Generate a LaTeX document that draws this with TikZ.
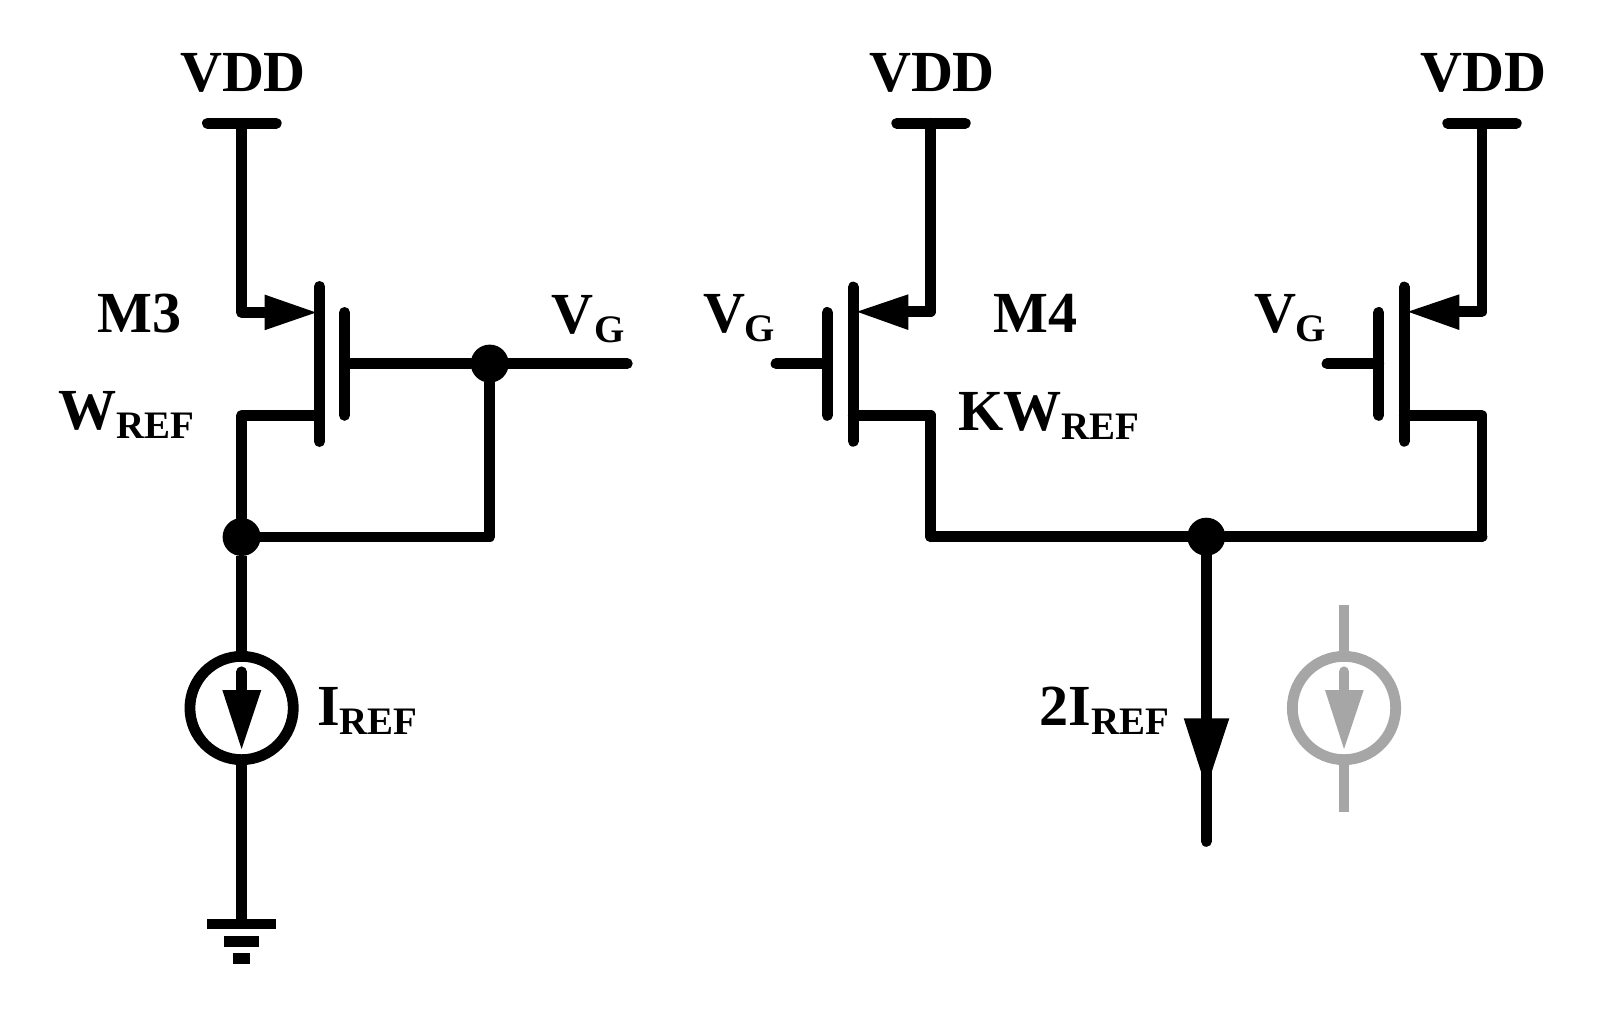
\documentclass[tikz,border=0pt]{standalone}
\usepackage{fontspec}
\setmainfont{Liberation Serif}
\newcommand{\mainsize}{\fontsize{43.6pt}{50pt}\selectfont\bfseries}
\newcommand{\subsize}{\fontsize{29.2pt}{34pt}\selectfont\bfseries}
\newcommand{\lbl}[2]{{\mainsize #1}\lower 6.4pt\hbox{\subsize #2}}
\definecolor{ghost}{HTML}{A6A6A6}
\tikzset{
  wire/.style={line width=8.1pt,line cap=round,line join=round,black},
  ghostwire/.style={line width=8.1pt,line cap=butt,ghost},
  tip/.style={fill=black,draw=none},
  label/.style={inner sep=0pt,outer sep=0pt,anchor=base west,black},
  rail/.style={inner sep=0pt,outer sep=0pt,anchor=base,black},
  junction/.style={circle,fill=black,inner sep=0pt,outer sep=0pt,minimum size=28.5pt},
  source/.style={circle,draw=black,line width=8.1pt,inner sep=0pt,outer sep=0pt,minimum size=77.5pt},
  ghostsource/.style={source,draw=ghost},
  gndbar/.style={rectangle,fill=black,inner sep=0pt,outer sep=0pt,minimum height=8pt}
}
\begin{document}
\begin{tikzpicture}[x=0.75pt,y=-0.75pt]
\useasboundingbox (0,0) rectangle (1616,1018);

% ---- texts
\node[rail] (vdd1) at (243,91) {\mainsize VDD};
\node[rail] (vdd2) at (932,91) {\mainsize VDD};
\node[rail] (vdd3) at (1483.2,91) {\mainsize VDD};
\node[label] (m3) at (97.5,332.5) {\mainsize M3};
\node[label] (m4) at (993.5,332.5) {\mainsize M4};
\node[label] (vg1) at (551.5,333.5) {\lbl{V}{\kern1pt G}};
\node[label] (vg2) at (703,332.5) {\lbl{V}{G}};
\node[label] (vg3) at (1254,332.5) {\lbl{V}{G}};
\node[label] (wref) at (58.5,429.5) {\lbl{W}{REF}};
\node[label] (kwref) at (958.5,430.5) {\lbl{KW}{REF}};
\node[label] (iref) at (317,725.5) {\lbl{I}{REF}};
\node[label] (tiref) at (1039.5,725.5) {\lbl{2I}{\kern0.5pt REF}};

% ---- left branch M3
\coordinate (r1a) at (207.4,123.3);
\coordinate (r1b) at (276.3,123.3);
\coordinate (r1m) at (241.6,123.3);
\coordinate (s1) at (241.6,312.5);
\coordinate (s1t) at (280,312.5);
\coordinate (c1a) at (319.5,286.4);
\coordinate (c1b) at (319.5,441.6);
\coordinate (g1a) at (344.6,312.4);
\coordinate (g1b) at (344.6,415.4);
\coordinate (g1m) at (344.6,363.6);
\coordinate (d1c) at (319.5,415.5);
\coordinate (d1) at (241.6,415.5);
\coordinate (vgend) at (627.3,363.6);
\coordinate (lc) at (489.7,537);
\node[junction] (j1) at (489.7,363.6) {};
\node[junction] (j2) at (241.6,537) {};
\node[source] (cs1) at (241.6,708) {};
\node[gndbar,minimum width=51.7pt] (gb1) at (241.6,924) {};
\node[gndbar,minimum width=26pt] (gb2) at (241.6,941.3) {};
\node[gndbar,minimum width=13pt] (gb3) at (241.6,958.6) {};

\draw[wire] (r1a) -- (r1b);
\draw[wire] (r1m) -- (s1) -- (s1t);
\fill[tip] (316,312.5) -- (264.7,294.6) -- (264.7,330.2) -- cycle;
\draw[wire] (c1a) -- (c1b);
\draw[wire] (g1a) -- (g1b);
\draw[wire] (g1m) -- (j1) -- (vgend);
\draw[wire] (d1c) -- (d1) -- (j2);
\draw[wire] (j2) -- (lc) -- (j1);
\draw[wire,line cap=butt] (j2) -- (cs1.north);
\draw[wire,line cap=butt] (cs1.south) -- (gb1.center);
\draw[wire] (241.6,671.8) -- (241.6,692);
\fill[tip] (222.3,690) -- (261.3,690) -- (241.6,749) -- cycle;

% ---- middle transistor M4
\coordinate (r2a) at (896.7,123.3);
\coordinate (r2b) at (965.3,123.3);
\coordinate (r2m) at (930.7,123.3);
\coordinate (s2) at (930.7,311.7);
\coordinate (s2t) at (895,311.7);
\coordinate (c2a) at (853.3,287);
\coordinate (c2b) at (853.3,441.3);
\coordinate (g2a) at (827.3,312.4);
\coordinate (g2b) at (827.3,415.4);
\coordinate (g2m) at (827.3,363.7);
\coordinate (g2e) at (776,363.7);
\coordinate (d2c) at (853.3,415.3);
\coordinate (d2) at (930.7,415.3);
\coordinate (b2) at (930.7,536.7);
\draw[wire] (r2a) -- (r2b);
\draw[wire] (r2m) -- (s2) -- (s2t);
\fill[tip] (857,311.7) -- (908.3,294.3) -- (908.3,330) -- cycle;
\draw[wire] (c2a) -- (c2b);
\draw[wire] (g2a) -- (g2b);
\draw[wire] (g2e) -- (g2m);
\draw[wire] (d2c) -- (d2) -- (b2);

% ---- right transistor
\coordinate (r3a) at (1447.7,123.3);
\coordinate (r3b) at (1516.3,123.3);
\coordinate (r3m) at (1482,123.3);
\coordinate (s3) at (1482,311.7);
\coordinate (s3t) at (1446,311.7);
\coordinate (c3a) at (1404.3,287);
\coordinate (c3b) at (1404.3,441.3);
\coordinate (g3a) at (1378.7,312.4);
\coordinate (g3b) at (1378.7,415.4);
\coordinate (g3m) at (1378.7,363.7);
\coordinate (g3e) at (1327,363.7);
\coordinate (d3c) at (1404.3,415.3);
\coordinate (d3) at (1482,415.3);
\coordinate (b3) at (1482,536.7);
\draw[wire] (r3a) -- (r3b);
\draw[wire] (r3m) -- (s3) -- (s3t);
\fill[tip] (1408,311.7) -- (1459.3,294.3) -- (1459.3,330) -- cycle;
\draw[wire] (c3a) -- (c3b);
\draw[wire] (g3a) -- (g3b);
\draw[wire] (g3e) -- (g3m);
\draw[wire] (d3c) -- (d3) -- (b3);

% ---- output
\node[junction] (j3) at (1206.3,536.7) {};
\coordinate (out) at (1206.3,841.4);
\draw[wire] (b2) -- (j3) -- (b3);
\draw[wire] (j3) -- (out);
\fill[tip] (1183.7,718.3) -- (1229.3,718.3) -- (1206.3,788) -- cycle;

% ---- ghost current source
\coordinate (gt) at (1344,605.3);
\coordinate (gb) at (1344,812);
\node[ghostsource] (cs2) at (1344,708) {};
\draw[ghostwire] (gt) -- (cs2.north);
\draw[ghostwire] (cs2.south) -- (gb);
\draw[ghostwire,line cap=round] (1344,671.8) -- (1344,692);
\fill[ghost] (1325,690) -- (1363.7,690) -- (1344,749) -- cycle;
\end{tikzpicture}
\end{document}
